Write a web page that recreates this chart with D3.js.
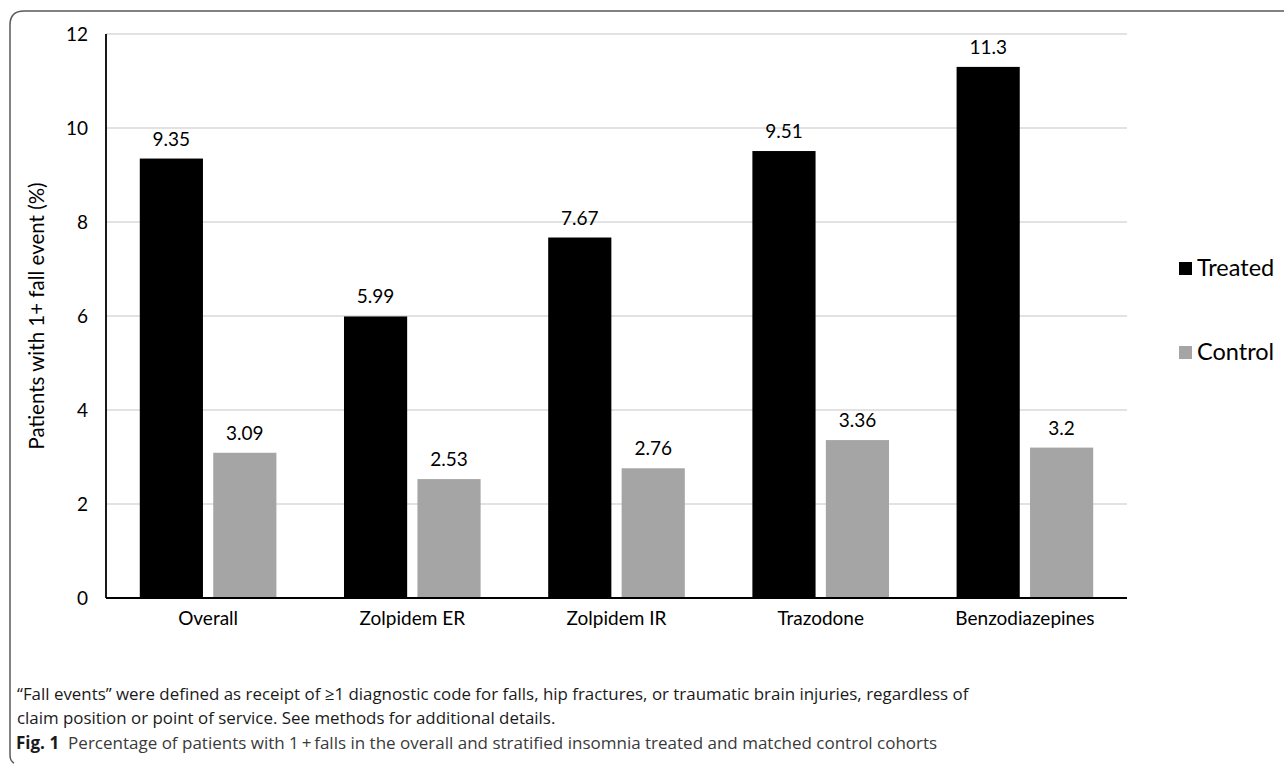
<!DOCTYPE html>
<html>
<head>
<meta charset="utf-8">
<script src="https://cdnjs.cloudflare.com/ajax/libs/d3/7.8.5/d3.min.js"></script>
<style>
body { margin: 0; background: #fff; }
svg { display: block; }
.chart-text { font-family: Lato, "Open Sans", sans-serif; fill: #000; }
.note { font-family: "Open Sans", "Noto Sans", sans-serif; fill: #1a1a1a; }
</style>
</head>
<body>
<div class="viz"></div>
<script>
var categories = ['Overall', 'Zolpidem ER', 'Zolpidem IR', 'Trazodone', 'Benzodiazepines'];
var treatedValues = [9.35, 5.99, 7.67, 9.51, 11.3];
var controlValues = [3.09, 2.53, 2.76, 3.36, 3.2];
var seriesNames = ['Treated', 'Control'];
var seriesColors = ['#000000', '#a5a5a5'];
var yTicks = [0, 2, 4, 6, 8, 10, 12];

var width = 1284,
    height = 766,
    margin = { top: 34, left: 106, right: 157, bottom: 168 },
    plotW = width - margin.left - margin.right,
    plotH = height - margin.top - margin.bottom;

var svg = d3.select('.viz').append('svg')
    .attr('width', width)
    .attr('height', height);

// frame round the figure (top and left only, rounded corners)
var r = 14;
svg.append('path')
    .attr('d', 'M' + width + ',11 L' + (10 + r) + ',11 Q10,11 10,' + (11 + r) +
        ' L10,' + (761 - 6) + ' Q10,761 14,763')
    .attr('fill', 'none')
    .attr('stroke', '#5a5a5a')
    .attr('stroke-width', 1.5);

var g = svg.append('g')
    .attr('transform', 'translate(' + margin.left + ',' + margin.top + ')');

var x0 = d3.scaleBand()
    .domain(categories)
    .range([0, plotW])
    .paddingInner(0)
    .paddingOuter(0);

var x1 = d3.scaleBand()
    .domain(seriesNames)
    .range([0, x0.bandwidth()])
    .paddingInner(0.14)
    .paddingOuter(0.46);

var y = d3.scaleLinear()
    .domain([0, 12])
    .range([plotH, 0]);

// gridlines
g.append('g')
    .selectAll('line')
    .data(yTicks.filter(function(d) { return d > 0; }))
    .enter().append('line')
    .attr('x1', 0)
    .attr('x2', plotW)
    .attr('y1', function(d) { return y(d); })
    .attr('y2', function(d) { return y(d); })
    .attr('stroke', '#d9d9d9')
    .attr('stroke-width', 1.3);

var rows = categories.map(function(c, i) {
    return { cat: c, values: [treatedValues[i], controlValues[i]] };
});

var groups = g.selectAll('.grp')
    .data(rows)
    .enter().append('g')
    .attr('class', 'grp')
    .attr('transform', function(d) { return 'translate(' + x0(d.cat) + ',0)'; });

groups.selectAll('rect')
    .data(function(d) { return d.values.map(function(v, j) { return { s: seriesNames[j], v: v, c: seriesColors[j] }; }); })
    .enter().append('rect')
    .attr('x', function(d) { return x1(d.s); })
    .attr('width', x1.bandwidth())
    .attr('y', function(d) { return y(d.v); })
    .attr('height', function(d) { return plotH - y(d.v); })
    .attr('fill', function(d) { return d.c; });

groups.selectAll('text')
    .data(function(d) { return d.values.map(function(v, j) { return { s: seriesNames[j], v: v }; }); })
    .enter().append('text')
    .attr('class', 'chart-text')
    .attr('x', function(d) { return x1(d.s) + x1.bandwidth() / 2; })
    .attr('y', function(d) { return y(d.v) - 13; })
    .attr('text-anchor', 'middle')
    .attr('font-size', 19)
    .text(function(d) { return d.v; });

// axes
var yAxis = g.append('g')
    .call(d3.axisLeft(y).tickValues(yTicks).tickSize(0).tickPadding(18));
yAxis.select('.domain').remove();
yAxis.selectAll('text')
    .attr('class', 'chart-text')
    .attr('font-size', 19)
    .attr('fill', '#000');

var xAxis = g.append('g')
    .attr('transform', 'translate(0,' + plotH + ')')
    .call(d3.axisBottom(x0).tickSize(0).tickPadding(14));
xAxis.select('.domain').remove();
xAxis.selectAll('text')
    .attr('class', 'chart-text')
    .attr('font-size', 19)
    .attr('fill', '#000');

g.append('line')
    .attr('x1', 0).attr('x2', 0)
    .attr('y1', 0).attr('y2', plotH)
    .attr('stroke', '#000').attr('stroke-width', 1.8);
g.append('line')
    .attr('x1', 0).attr('x2', plotW)
    .attr('y1', plotH).attr('y2', plotH)
    .attr('stroke', '#000').attr('stroke-width', 1.8);

svg.append('text')
    .attr('class', 'chart-text')
    .attr('transform', 'translate(44,' + (margin.top + plotH / 2) + ') rotate(-90)')
    .attr('text-anchor', 'middle')
    .attr('font-size', 20.5)
    .text('Patients with 1+ fall event (%)');

// legend
var legend = svg.append('g')
    .selectAll('g')
    .data(seriesNames)
    .enter().append('g')
    .attr('transform', function(d, i) { return 'translate(1179,' + (262 + i * 84) + ')'; });
legend.append('rect')
    .attr('width', 13).attr('height', 13)
    .attr('fill', function(d, i) { return seriesColors[i]; });
legend.append('text')
    .attr('class', 'chart-text')
    .attr('x', 18).attr('y', 14)
    .attr('font-size', 23.5)
    .text(function(d) { return d; });

// notes and caption
svg.append('text')
    .attr('class', 'note')
    .attr('x', 17).attr('y', 700)
    .attr('font-size', 16.9)
    .text('\u201cFall events\u201d were defined as receipt of \u22651 diagnostic code for falls, hip fractures, or traumatic brain injuries, regardless of');
svg.append('text')
    .attr('class', 'note')
    .attr('x', 17).attr('y', 724)
    .attr('font-size', 16.9)
    .text('claim position or point of service. See methods for additional details.');

var cap = svg.append('text')
    .attr('class', 'note')
    .attr('x', 16).attr('y', 749)
    .attr('font-size', 17);
cap.append('tspan')
    .attr('font-weight', 'bold')
    .text('Fig. 1');
cap.append('tspan')
    .attr('dx', 9)
    .attr('fill', '#3a3a3a')
    .text('Percentage of patients with 1\u2009+\u2009falls in the overall and stratified insomnia treated and matched control cohorts');
</script>
</body>
</html>
